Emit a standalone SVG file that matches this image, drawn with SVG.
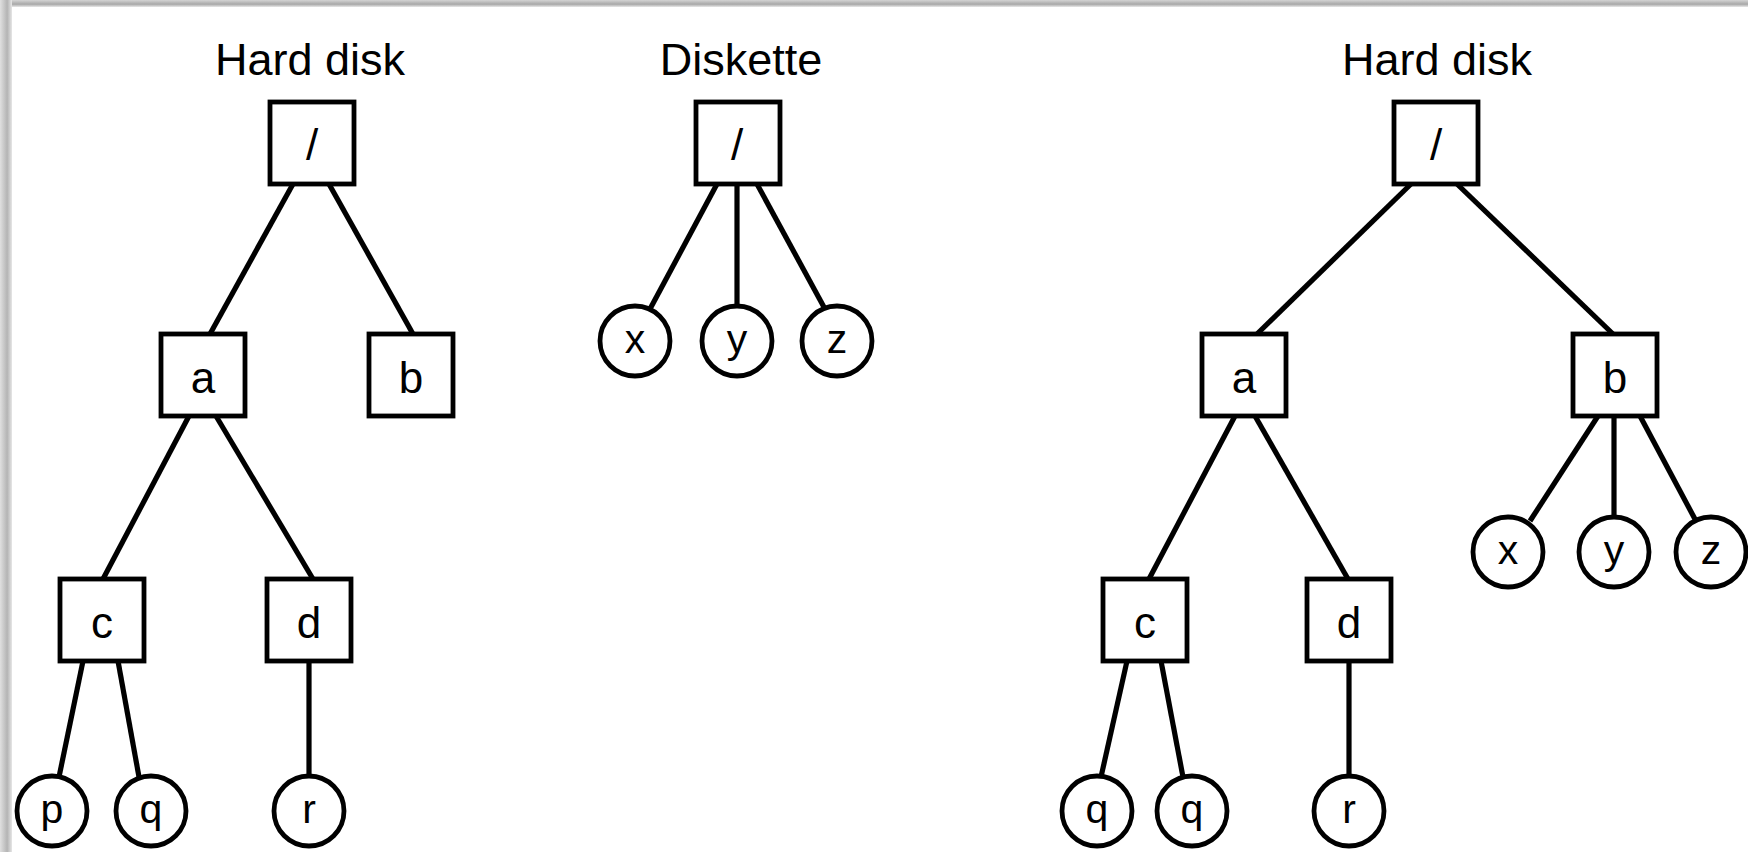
<svg xmlns="http://www.w3.org/2000/svg" width="1748" height="852" viewBox="0 0 1748 852">
<defs>
<linearGradient id="gTop" x1="0" y1="0" x2="0" y2="1"><stop offset="0" stop-color="#d4d4d4"/><stop offset="0.6" stop-color="#a8a8a8"/><stop offset="1" stop-color="#e8e8e8"/></linearGradient>
<linearGradient id="gLeft" x1="0" y1="0" x2="1" y2="0"><stop offset="0" stop-color="#e0e0e0"/><stop offset="0.6" stop-color="#b4b4b4"/><stop offset="1" stop-color="#e6e6e6"/></linearGradient>
</defs>
<style>
.box{fill:#fff;stroke:#000;stroke-width:4.8}
.leaf{fill:#fff;stroke:#000;stroke-width:4.8}
.edge{stroke:#000;stroke-width:5.2;fill:none}
.lbl{font-family:"Liberation Sans",Arial,sans-serif;font-size:44px;text-anchor:middle;fill:#000}
.lf{font-family:"Liberation Sans",Arial,sans-serif;font-size:41px;text-anchor:middle;fill:#000}
.title{font-family:"Liberation Sans",Arial,sans-serif;font-size:45px;text-anchor:middle;fill:#000}
</style>
<rect x="0" y="0" width="1748" height="852" fill="#fff"/>
<rect x="0" y="0" width="1748" height="7" fill="url(#gTop)"/>
<rect x="0" y="0" width="12" height="852" fill="url(#gLeft)"/>

<g id="titles">
<text class="title" x="310" y="75">Hard disk</text>
<text class="title" x="741" y="75">Diskette</text>
<text class="title" x="1437" y="75">Hard disk</text>
</g>

<g id="connectors">
<line class="edge" x1="293" y1="184" x2="210" y2="334"/>
<line class="edge" x1="329" y1="184" x2="413" y2="334"/>
<line class="edge" x1="189" y1="416" x2="103" y2="579"/>
<line class="edge" x1="216" y1="416" x2="313" y2="579"/>
<line class="edge" x1="83" y1="661" x2="59" y2="777"/>
<line class="edge" x1="118" y1="661" x2="139" y2="777"/>
<line class="edge" x1="309" y1="661" x2="309" y2="776"/>

<line class="edge" x1="717" y1="184" x2="650" y2="309"/>
<line class="edge" x1="737" y1="184" x2="737" y2="306"/>
<line class="edge" x1="757" y1="184" x2="825" y2="309"/>

<line class="edge" x1="1411" y1="184" x2="1257" y2="334"/>
<line class="edge" x1="1457" y1="184" x2="1613" y2="334"/>
<line class="edge" x1="1235" y1="416" x2="1149" y2="579"/>
<line class="edge" x1="1255" y1="416" x2="1348" y2="579"/>
<line class="edge" x1="1598" y1="416" x2="1530" y2="521"/>
<line class="edge" x1="1614" y1="416" x2="1614" y2="517"/>
<line class="edge" x1="1640" y1="416" x2="1696" y2="521"/>
<line class="edge" x1="1127" y1="661" x2="1101" y2="777"/>
<line class="edge" x1="1161" y1="661" x2="1183" y2="777"/>
<line class="edge" x1="1349" y1="661" x2="1349" y2="776"/>
</g>

<g id="L-root"><rect class="box" x="270" y="102" width="84" height="82"/><text class="lbl" x="312" y="160">/</text></g>
<g id="L-a"><rect class="box" x="161" y="334" width="84" height="82"/><text class="lbl" x="203" y="393">a</text></g>
<g id="L-b"><rect class="box" x="369" y="334" width="84" height="82"/><text class="lbl" x="411" y="393">b</text></g>
<g id="L-c"><rect class="box" x="60" y="579" width="84" height="82"/><text class="lbl" x="102" y="638">c</text></g>
<g id="L-d"><rect class="box" x="267" y="579" width="84" height="82"/><text class="lbl" x="309" y="638">d</text></g>
<g id="L-p"><circle class="leaf" cx="52" cy="811" r="35"/><text class="lf" x="52" y="823">p</text></g>
<g id="L-q"><circle class="leaf" cx="151" cy="811" r="35"/><text class="lf" x="151" y="823">q</text></g>
<g id="L-r"><circle class="leaf" cx="309" cy="811" r="35"/><text class="lf" x="309" y="823">r</text></g>

<g id="D-root"><rect class="box" x="696" y="102" width="84" height="82"/><text class="lbl" x="737" y="160">/</text></g>
<g id="D-x"><circle class="leaf" cx="635" cy="341" r="35"/><text class="lf" x="635" y="353">x</text></g>
<g id="D-y"><circle class="leaf" cx="737" cy="341" r="35"/><text class="lf" x="737" y="353">y</text></g>
<g id="D-z"><circle class="leaf" cx="837" cy="341" r="35"/><text class="lf" x="837" y="353">z</text></g>

<g id="R-root"><rect class="box" x="1394" y="102" width="84" height="82"/><text class="lbl" x="1436" y="160">/</text></g>
<g id="R-a"><rect class="box" x="1202" y="334" width="84" height="82"/><text class="lbl" x="1244" y="393">a</text></g>
<g id="R-b"><rect class="box" x="1573" y="334" width="84" height="82"/><text class="lbl" x="1615" y="393">b</text></g>
<g id="R-c"><rect class="box" x="1103" y="579" width="84" height="82"/><text class="lbl" x="1145" y="638">c</text></g>
<g id="R-d"><rect class="box" x="1307" y="579" width="84" height="82"/><text class="lbl" x="1349" y="638">d</text></g>
<g id="R-x"><circle class="leaf" cx="1508" cy="552" r="35"/><text class="lf" x="1508" y="564">x</text></g>
<g id="R-y"><circle class="leaf" cx="1614" cy="552" r="35"/><text class="lf" x="1614" y="564">y</text></g>
<g id="R-z"><circle class="leaf" cx="1711" cy="552" r="35"/><text class="lf" x="1711" y="564">z</text></g>
<g id="R-q1"><circle class="leaf" cx="1097" cy="811" r="35"/><text class="lf" x="1097" y="823">q</text></g>
<g id="R-q2"><circle class="leaf" cx="1192" cy="811" r="35"/><text class="lf" x="1192" y="823">q</text></g>
<g id="R-r"><circle class="leaf" cx="1349" cy="811" r="35"/><text class="lf" x="1349" y="823">r</text></g>
</svg>
